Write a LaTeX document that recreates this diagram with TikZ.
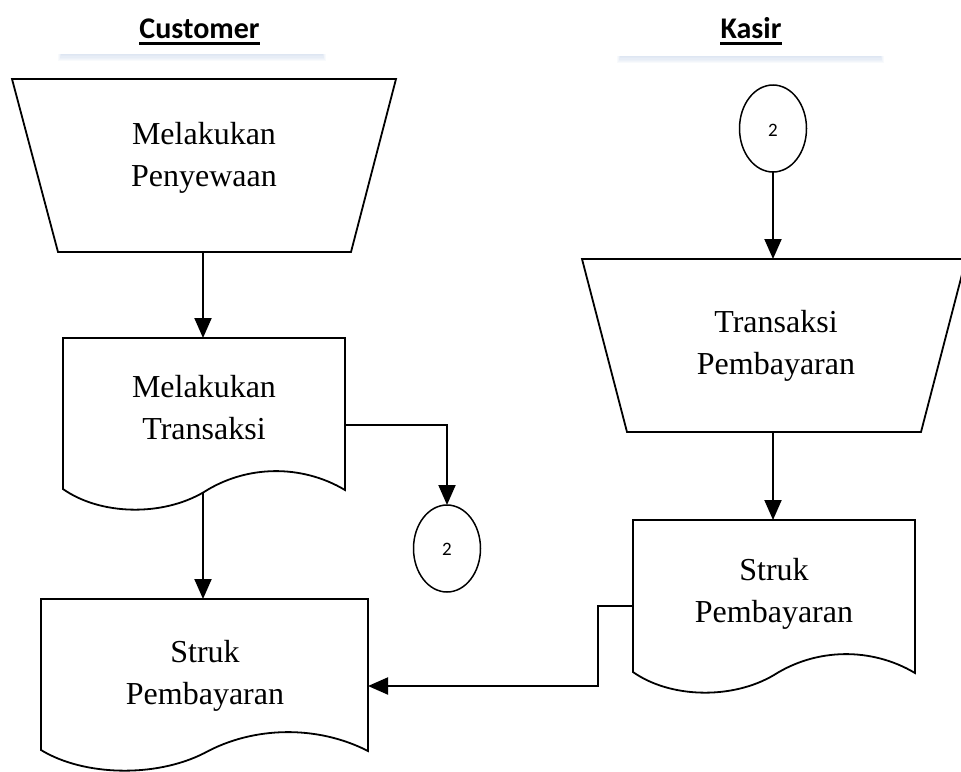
\documentclass[tikz,border=0pt]{standalone}
\usepackage{fontspec}
\setmainfont{Liberation Serif}
\newfontfamily\headfont{Carlito}
\usetikzlibrary{arrows.meta,calc}

\definecolor{shadowblue}{RGB}{185,203,230}

% two centred lines whose base is the baseline of the first line
\newcommand\twolines[2]{\vtop{\baselineskip=42pt\halign{\hfil##\hfil\cr#1\cr#2\cr}}}

% document symbol: left x, right x, top y, y of the wavy edge at the left side
\newcommand\docshape[4]{%
  \draw[shapeline] (#1,#3) -- (#2,#3) -- (#2,#4+1)
    .. controls ({#1+0.845*(#2-#1)},#4-25) and ({#1+0.65*(#2-#1)},#4-24) .. ({#1+0.5*(#2-#1)},#4+3)
    .. controls ({#1+0.35*(#2-#1)},#4+28) and ({#1+0.13*(#2-#1)},#4+26) .. (#1,#4) -- cycle;}

% soft shadow falling below a header box
\newcommand\softshadow[4]{%
  \foreach \s in {1,...,6}{%
    \fill[shadowblue,opacity=0.09] (#1+5-\s*0.6,#2+8) rectangle (#3-5+\s*0.6,#4+\s*1.2);}}

\tikzset{
  shapeline/.style={draw=black,line width=1.8pt,fill=white,line join=miter},
  conn/.style={line width=2pt},
  arr/.style={conn,-{Triangle[length=20pt,width=17pt]}},
  body/.style={font=\fontsize{32}{42}\selectfont,inner sep=0pt,anchor=base},
  head/.style={font=\headfont\bfseries\fontsize{30}{36}\selectfont,inner sep=0pt,anchor=base},
  conlabel/.style={font=\headfont\fontsize{19}{22}\selectfont,inner sep=0pt},
  uline/.style={line width=3pt}
}

\begin{document}
\begin{tikzpicture}[x=1pt,y=-1pt]
\useasboundingbox (0,0) rectangle (961,771);
\fill[white] (0,0) rectangle (961,771);

% ---------- lane headers ----------
\softshadow{57}{5}{327}{54}
\fill[white] (57,5) rectangle (327,54);
\node[head] (hcust) at (199.5,38) {Customer};
\draw[uline] (hcust.base west) ++(0,5) coordinate (ucs) -- ($(hcust.base east)+(0,5)$) coordinate (uce);

\softshadow{616}{5}{885}{56}
\fill[white] (616,5) rectangle (885,56);
\node[head] (hkas) at (751,38) {Kasir};
\draw[uline] (hkas.base west) ++(0,5) coordinate (uks) -- ($(hkas.base east)+(0,5)$) coordinate (uke);

% ---------- Customer lane ----------
% manual input: Melakukan Penyewaan
\draw[shapeline] (12,79) -- (396,79) -- (351,252) -- (58,252) -- cycle;
\node[body] (tsewa) at (204,144) {\twolines{Melakukan}{Penyewaan}};
\coordinate (sewaB) at (203,252);

% document: Melakukan Transaksi
\docshape{63}{345}{338}{489}
\node[body] (ttrans) at (204,397) {\twolines{Melakukan}{Transaksi}};
\coordinate (transT) at (203,338);
\coordinate (transE) at (345,425);
\coordinate (transW) at (203,492);
\coordinate (transK) at (447,425);

% off-page connector 2 (outgoing)
\draw[shapeline,line width=1.5pt] (447,548.5) ellipse [x radius=33.5,y radius=43.5];
\node[conlabel] (c2out) at (447,549) {2};
\coordinate (c2outT) at (447,505);

% document: Struk Pembayaran (customer)
\docshape{41}{368}{599}{750}
\node[body] (tstruk1) at (205,662) {\twolines{Struk}{Pembayaran}};
\coordinate (struk1T) at (203,599);
\coordinate (struk1E) at (368,686);

% ---------- Kasir lane ----------
% off-page connector 2 (incoming)
\draw[shapeline,line width=1.5pt] (773,128.5) ellipse [x radius=33.5,y radius=43.5];
\node[conlabel] (c2in) at (773,130) {2};
\coordinate (c2inB) at (773,172);

% manual input: Transaksi Pembayaran
\draw[shapeline] (582,259) -- (966,259) -- (921,432) -- (627,432) -- cycle;
\node[body] (tbayar) at (776,332) {\twolines{Transaksi}{Pembayaran}};
\coordinate (bayarT) at (773,259);
\coordinate (bayarB) at (773,432);

% document: Struk Pembayaran (kasir)
\docshape{633}{915}{520}{672}
\node[body] (tstruk2) at (774,580) {\twolines{Struk}{Pembayaran}};
\coordinate (struk2T) at (773,520);
\coordinate (struk2W) at (633,606);
\coordinate (bendA) at (598,606);
\coordinate (bendB) at (598,686);

% ---------- flow lines ----------
\draw[arr] (sewaB) -- (transT);
\draw[arr] (transE) -- (transK) -- (c2outT);
\draw[arr] (transW) -- (struk1T);
\draw[arr] (c2inB) -- (bayarT);
\draw[arr] (bayarB) -- (struk2T);
\draw[arr] (struk2W) -- (bendA) -- (bendB) -- (struk1E);
\end{tikzpicture}
\end{document}
